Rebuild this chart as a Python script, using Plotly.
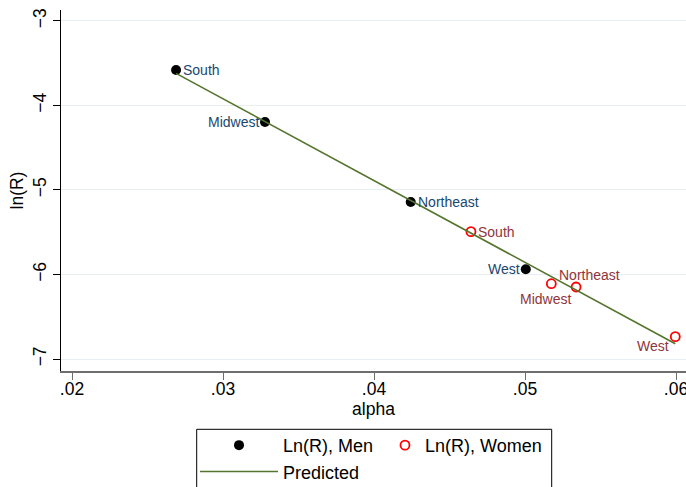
import plotly.graph_objects as go

# ---- data ----
regions = ["South", "Midwest", "Northeast", "West"]
men_alpha = [0.02689, 0.03278, 0.04243, 0.05005]
men_lnr = [-3.58, -4.195, -5.142, -5.938]
women_alpha = [0.04642, 0.05174, 0.05338, 0.05995]
women_lnr = [-5.493, -6.109, -6.148, -6.736]
pred_alpha = [0.02689, 0.03278, 0.04243, 0.04642, 0.05005, 0.05174, 0.05338, 0.05995]
pred_lnr = [-3.62, -4.19, -5.12, -5.51, -5.86, -6.02, -6.18, -6.82]
x_ticks = [0.02, 0.03, 0.04, 0.05, 0.06]
x_ticklabels = [".02", ".03", ".04", ".05", ".06"]
y_ticks = [-7, -6, -5, -4, -3]

# ---- styles ----
FONT = "Liberation Sans, Arial, sans-serif"
NAVY = "#1a476f"
MAROON = "#90353b"
GREEN = "#55752f"
# label placement (xanchor, yanchor, xshift, yshift) per region
men_lab = {
    "South": ("left", "middle", 5, 0),
    "Midwest": ("right", "middle", -4, 0),
    "Northeast": ("left", "middle", 5, 0),
    "West": ("right", "middle", -4, 0),
}
women_lab = {
    "South": ("left", "middle", 5, 0),
    "Midwest": ("center", "middle", -6, -15),
    "Northeast": ("center", "middle", 13, 12),
    "West": ("right", "middle", -4, -9),
}

fig = go.Figure()
fig.add_trace(go.Scatter(
    x=men_alpha, y=men_lnr, mode="markers", name="Ln(R), Men", legend="legend",
    marker=dict(symbol="circle", size=10, color="black"),
))
fig.add_trace(go.Scatter(
    x=women_alpha, y=women_lnr, mode="markers", name="Ln(R), Women", legend="legend2",
    marker=dict(symbol="circle-open", size=9, color="red", line=dict(width=1.8, color="red")),
))
fig.add_trace(go.Scatter(
    x=pred_alpha, y=pred_lnr, mode="lines", name="Predicted", legend="legend",
    line=dict(color=GREEN, width=1.6),
))

for name, xa, ya in zip(regions, men_alpha, men_lnr):
    xan, yan, xs, ys = men_lab[name]
    fig.add_annotation(x=xa, y=ya, text=name, showarrow=False, xanchor=xan, yanchor=yan,
                       xshift=xs, yshift=ys, font=dict(family=FONT, size=14, color=NAVY))
for name, xa, ya in zip(regions, women_alpha, women_lnr):
    xan, yan, xs, ys = women_lab[name]
    fig.add_annotation(x=xa, y=ya, text=name, showarrow=False, xanchor=xan, yanchor=yan,
                       xshift=xs, yshift=ys, font=dict(family=FONT, size=14, color=MAROON))

# legend frame
fig.add_shape(type="rect", xref="paper", yref="paper",
              x0=0.2171, x1=0.7851, y0=-0.1615, y1=-0.40,
              line=dict(color="black", width=1), fillcolor="rgba(0,0,0,0)", layer="above")

legend_common = dict(
    orientation="v", yanchor="top", xanchor="left",
    borderwidth=0, bgcolor="rgba(0,0,0,0)",
    font=dict(family=FONT, size=18, color="black"),
    tracegroupgap=0, traceorder="normal",
)

fig.update_layout(
    width=686, height=487,
    margin=dict(l=61, r=0, t=10, b=116, autoexpand=False),
    paper_bgcolor="white", plot_bgcolor="white",
    font=dict(family=FONT, size=17.5, color="black"),
    showlegend=True,
    legend=dict(x=0.2144, y=-0.155, itemwidth=78, **legend_common),
    legend2=dict(x=0.5184, y=-0.155, itemwidth=30, **legend_common),
    xaxis=dict(
        range=[0.01927, 0.06066], tickvals=x_ticks, ticktext=x_ticklabels,
        showgrid=False, zeroline=False, showline=True, linecolor="#6e6e6e", linewidth=1.5,
        ticks="outside", ticklen=7, tickcolor="#6e6e6e", tickwidth=1.2,
        ticklabelstandoff=-6, ticklabeloverflow="allow",
        title=dict(text="alpha", standoff=0, font=dict(size=17.5)),
        tickfont=dict(size=17.5),
    ),
    yaxis=dict(
        range=[-7.142, -2.87], tickvals=y_ticks,
        showgrid=True, gridcolor="#e7eff2", gridwidth=1,
        zeroline=False, showline=True, linecolor="black", linewidth=1.2,
        ticks="outside", ticklen=7, tickcolor="black", tickwidth=1.2,
        tickangle=-90, tickfont=dict(size=17.5),
        title=dict(text="ln(R)", standoff=1, font=dict(size=17.5)),
    ),
)

fig.write_html("out.html", config={"displayModeBar": False},
               post_script="document.body.style.margin='0';")
